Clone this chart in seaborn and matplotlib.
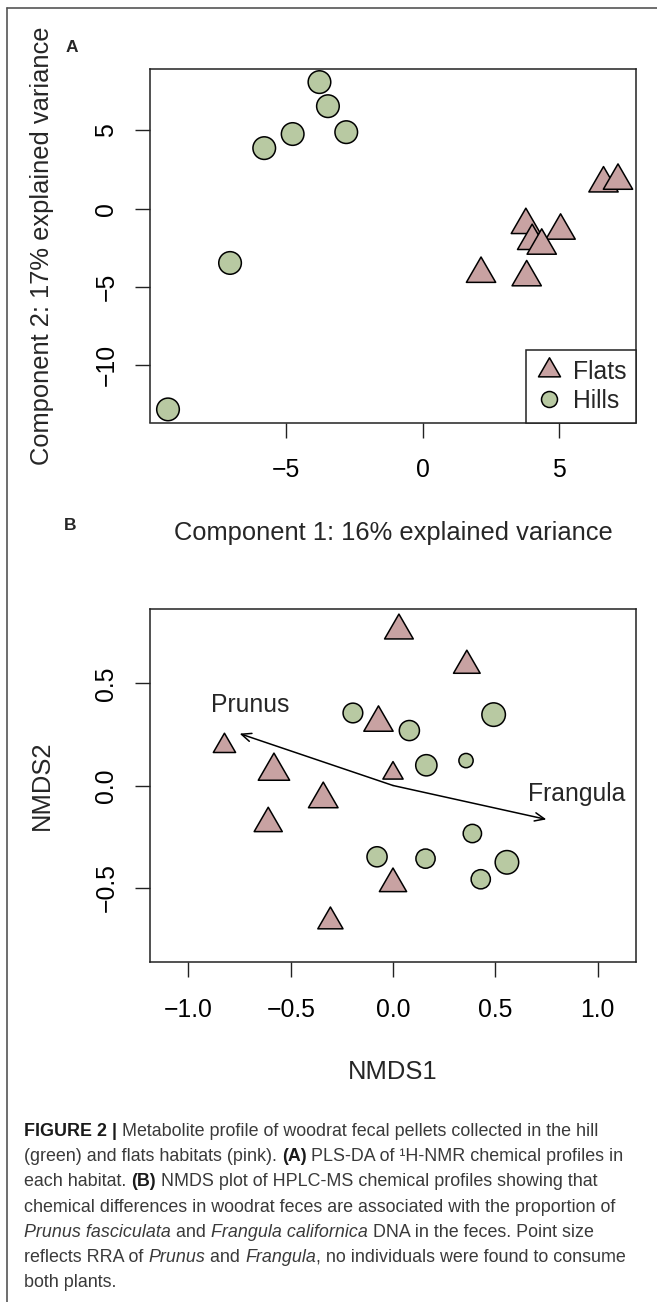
import pandas as pd
import matplotlib.pyplot as plt
import seaborn as sns
from matplotlib.path import Path
from matplotlib.lines import Line2D

# ---- Panel A: PLS-DA de perfiles 1H-NMR ----
pls_habitat = ["Hills"] * 7 + ["Flats"] * 8
pls_comp1 = [-3.77, -3.46, -4.75, -2.79, -5.79, -7.04, -9.31,
             6.62, 7.15, 3.78, 5.05, 4.01, 4.36, 2.14, 3.81]
pls_comp2 = [8.09, 6.55, 4.77, 4.89, 3.87, -3.47, -12.83,
             1.61, 1.78, -1.05, -1.41, -2.07, -2.37, -4.17, -4.39]
pls_xticks = [-5, 0, 5]
pls_xticklabels = ["\u22125", "0", "5"]
pls_yticks = [-10, -5, 0, 5]
pls_yticklabels = ["\u221210", "\u22125", "0", "5"]

# ---- Panel B: NMDS de perfiles HPLC-MS ----
nmds_habitat = ["Flats"] * 10 + ["Hills"] * 10
nmds1 = [0.029, 0.361, -0.071, -0.824, -0.582, 0.0, -0.341, -0.61, 0.0, -0.306,
         -0.196, 0.080, 0.492, 0.163, 0.357, 0.388, -0.078, 0.159, 0.557, 0.429]
nmds2 = [0.758, 0.587, 0.307, 0.193, 0.07, 0.06, -0.067, -0.186, -0.481, -0.666,
         0.355, 0.269, 0.347, 0.099, 0.122, -0.235, -0.349, -0.358, -0.376, -0.459]
# tamaño relativo del punto (RRA de Prunus / Frangula)
nmds_rra = [0.98, 0.91, 1.0, 0.76, 1.07, 0.69, 1.01, 0.96, 0.93, 0.86,
            0.87, 0.89, 1.04, 0.94, 0.63, 0.81, 0.89, 0.85, 1.04, 0.85]
nmds_xticks = [-1.0, -0.5, 0.0, 0.5, 1.0]
nmds_xticklabels = ["\u22121.0", "\u22120.5", "0.0", "0.5", "1.0"]
nmds_yticks = [-0.5, 0.0, 0.5]
nmds_yticklabels = ["\u22120.5", "0.0", "0.5"]
vec_labels = ["Prunus", "Frangula"]
vec_x = [-0.75, 0.75]
vec_y = [0.254, -0.166]

colores = {"Flats": "#c8a2a2", "Hills": "#b8c9a2"}

# triangulo tipo pch=24 de R (centrado en el centroide)
tri = Path([(-1, -0.577), (1, -0.577), (0, 1.155), (-1, -0.577)],
           [Path.MOVETO, Path.LINETO, Path.LINETO, Path.CLOSEPOLY])
marcadores = {"Flats": tri, "Hills": "o"}
area_base = {"Flats": 594, "Hills": 265}

sns.set_style("ticks")
plt.rcParams['font.family'] = ['Liberation Sans', 'DejaVu Sans']

W, H = 657, 1302
fig = plt.figure(figsize=(W / 100, H / 100), dpi=100)


def ejes_px(l, t, r, b):
    return fig.add_axes([l / W, 1 - b / H, (r - l) / W, (b - t) / H])


def rango_r(v):
    lo, hi = min(v), max(v)
    d = (hi - lo) * 0.04
    return lo - d, hi + d


def estilo(ax):
    for s in ax.spines.values():
        s.set_color("#222222")
        s.set_linewidth(1.1)
    ax.tick_params(axis="both", direction="out", length=10.8, width=1.0,
                   color="#222222", labelsize=17.8, labelcolor="black",
                   bottom=True, left=True)
    ax.tick_params(axis="x", pad=15)
    ax.tick_params(axis="y", pad=12, labelrotation=90)
    for lab in ax.get_yticklabels():
        lab.set_va("center")


# ---------------- Panel A ----------------
axA = ejes_px(150, 69, 636, 422.5)
dfA = pd.DataFrame({"c1": pls_comp1, "c2": pls_comp2, "habitat": pls_habitat})
sns.scatterplot(data=dfA, x="c1", y="c2", hue="habitat", style="habitat",
                size="habitat", palette=colores, markers=marcadores,
                sizes=area_base, edgecolor="black", linewidth=1.1,
                legend=False, ax=axA)
axA.set_xlim(rango_r(pls_comp1))
axA.set_ylim(rango_r(pls_comp2))
axA.set_xticks(pls_xticks, pls_xticklabels)
axA.set_yticks(pls_yticks, pls_yticklabels)
estilo(axA)
axA.set_xlabel("Component 1: 16% explained variance", fontsize=18.4, va="center")
axA.set_ylabel("Component 2: 17% explained variance", fontsize=18.4, va="center")
axA.xaxis.set_label_coords(0.5, -0.3126)
axA.yaxis.set_label_coords(-0.222, 0.5)

manejadores = [
    Line2D([], [], ls="", marker=tri, markersize=18.3, markerfacecolor=colores["Flats"],
           markeredgecolor="black", markeredgewidth=1.1, label="Flats"),
    Line2D([], [], ls="", marker="o", markersize=11.5, markerfacecolor=colores["Hills"],
           markeredgecolor="black", markeredgewidth=1.1, label="Hills"),
]
leg = axA.legend(handles=manejadores, loc="lower right", bbox_to_anchor=(1, 0),
                 borderaxespad=0, fancybox=False, framealpha=1, edgecolor="#222222",
                 fontsize=17.8, borderpad=0.4, handlelength=1.1, handletextpad=0.4,
                 labelspacing=0.2)
leg.get_frame().set_linewidth(1.1)

# ---------------- Panel B ----------------
axB = ejes_px(150, 609, 636, 962)
dfB = pd.DataFrame({"n1": nmds1, "n2": nmds2, "habitat": nmds_habitat,
                    "rra": nmds_rra})
dfB["area"] = dfB["rra"] ** 2
for hab in ["Hills", "Flats"]:
    sub = dfB[dfB["habitat"] == hab]
    sns.scatterplot(data=sub, x="n1", y="n2", size="area",
                    sizes=(0, 1.5 * area_base[hab]), size_norm=(0, 1.5),
                    marker=marcadores[hab], color=colores[hab],
                    edgecolor="black", linewidth=1.1, legend=False, ax=axB)
for lab, vx, vy in zip(vec_labels, vec_x, vec_y):
    axB.annotate("", xy=(vx, vy), xytext=(0, 0),
                 arrowprops=dict(arrowstyle="->,head_length=0.7,head_width=0.3",
                                 lw=1.1, color="black", shrinkA=0, shrinkB=0))
axB.text(-0.698, 0.396, vec_labels[0], ha="center", va="center", fontsize=17.8)
axB.text(0.90, -0.041, vec_labels[1], ha="center", va="center", fontsize=17.8)
axB.set_xlim(rango_r([-1.1, 1.1]))
axB.set_ylim(rango_r([-0.8, 0.8]))
axB.set_xticks(nmds_xticks, nmds_xticklabels)
axB.set_yticks(nmds_yticks, nmds_yticklabels)
estilo(axB)
axB.set_xlabel("NMDS1", fontsize=18.4, va="center")
axB.set_ylabel("NMDS2", fontsize=18.4, va="center")
axB.xaxis.set_label_coords(0.5, -0.3116)
axB.yaxis.set_label_coords(-0.222, 0.5)

# letras de panel
fig.text(72 / W, 1 - 47 / H, "A", weight="bold", fontsize=12.5, ha="center", va="center")
fig.text(70 / W, 1 - 525 / H, "B", weight="bold", fontsize=12.5, ha="center", va="center")

# marco de la figura
fig.add_artist(Line2D([7 / W, 7 / W], [0, 1 - 8 / H], color="#555555", lw=1.2))
fig.add_artist(Line2D([7 / W, 1], [1 - 8 / H, 1 - 8 / H], color="#555555", lw=1.2))

# ---------------- pie de figura ----------------
tam = 12.9
n = dict(color="#3a3a3a", fontsize=tam)
b = dict(color="#1a1a1a", fontsize=tam, weight="bold")
it = dict(color="#3a3a3a", fontsize=tam, style="italic")
lineas = [
    [("FIGURE 2 |", b), (" Metabolite profile of woodrat fecal pellets collected in the hill", n)],
    [("(green) and flats habitats (pink). ", n), ("(A)", b), (" PLS-DA of \u00b9H-NMR chemical profiles in", n)],
    [("each habitat. ", n), ("(B)", b), (" NMDS plot of HPLC-MS chemical profiles showing that", n)],
    [("chemical differences in woodrat feces are associated with the proportion of", n)],
    [("Prunus fasciculata", it), (" and ", n), ("Frangula californica", it), (" DNA in the feces. Point size", n)],
    [("reflects RRA of ", n), ("Prunus", it), (" and ", n), ("Frangula", it), (", no individuals were found to consume", n)],
    [("both plants.", n)],
]
rend = fig.canvas.get_renderer()


def ancho(txt, props):
    t1 = fig.text(0, 0, "X" + txt + "X", **props)
    t2 = fig.text(0, 0, "XX", **props)
    w = t1.get_window_extent(rend).width - t2.get_window_extent(rend).width
    t1.remove()
    t2.remove()
    return w


base_y = 1136
for i, runs in enumerate(lineas):
    x = 24
    y = base_y + i * 25.2
    for txt, props in runs:
        fig.text(x / W, 1 - y / H, txt, va="baseline", ha="left", **props)
        x += ancho(txt, props)

fig.savefig("out.png", dpi=100)
